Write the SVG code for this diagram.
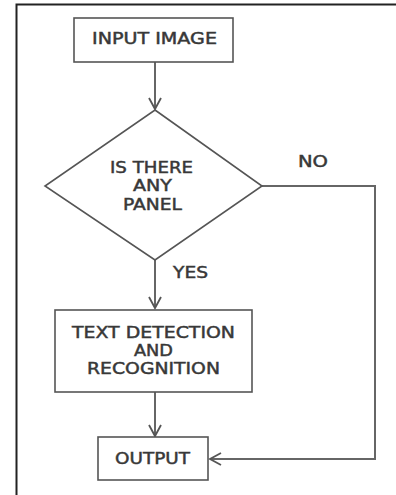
<svg xmlns="http://www.w3.org/2000/svg" width="396" height="495" viewBox="0 0 396 495">
<defs>
<style>
.box{fill:#fff;stroke:#555;stroke-width:1.6}
.ln{fill:none;stroke:#666;stroke-width:2}
.t{font-family:"DejaVu Sans",sans-serif;font-size:15px;fill:#383838;stroke:#383838;stroke-width:0.45;text-anchor:middle}
</style>
<marker id="ah" markerUnits="userSpaceOnUse" markerWidth="16" markerHeight="16" refX="12" refY="7" orient="auto">
<path d="M1,1 L12,7 L1,13" fill="none" stroke="#555" stroke-width="1.8"/>
</marker>
</defs>
<rect width="396" height="495" fill="#fff"/>
<path d="M16.5,495 V4.5 H396" fill="none" stroke="#222" stroke-width="2"/>
<g id="connectors">
<line class="ln" x1="155" y1="62" x2="155" y2="109" marker-end="url(#ah)"/>
<line class="ln" x1="155" y1="260" x2="155" y2="308" marker-end="url(#ah)"/>
<line class="ln" x1="155" y1="392" x2="155" y2="436" marker-end="url(#ah)"/>
<polyline class="ln" points="262,186 375,186 375,459 210,459" marker-end="url(#ah)"/>
<text class="t" x="313" y="167" textLength="30" lengthAdjust="spacingAndGlyphs">NO</text>
<text class="t" x="190.5" y="278" textLength="35" lengthAdjust="spacingAndGlyphs">YES</text>
</g>
<g id="input">
<rect class="box" x="74" y="18" width="159" height="44"/>
<text class="t" x="154.5" y="44" textLength="125" lengthAdjust="spacingAndGlyphs">INPUT IMAGE</text>
</g>
<g id="decision">
<polygon class="box" points="155,110 262,186 155,260 45,186"/>
<text class="t" x="151.5" y="173" textLength="83" lengthAdjust="spacingAndGlyphs">IS THERE</text>
<text class="t" x="152.5" y="191" textLength="39" lengthAdjust="spacingAndGlyphs">ANY</text>
<text class="t" x="152.5" y="210" textLength="59" lengthAdjust="spacingAndGlyphs">PANEL</text>
</g>
<g id="textdet">
<rect class="box" x="55" y="310" width="197" height="82"/>
<text class="t" x="153.5" y="337.5" textLength="163" lengthAdjust="spacingAndGlyphs">TEXT DETECTION</text>
<text class="t" x="153.5" y="355.5" textLength="39" lengthAdjust="spacingAndGlyphs">AND</text>
<text class="t" x="153.5" y="374" textLength="133" lengthAdjust="spacingAndGlyphs">RECOGNITION</text>
</g>
<g id="output">
<rect class="box" x="98" y="437" width="110" height="43"/>
<text class="t" x="152.5" y="464" textLength="75" lengthAdjust="spacingAndGlyphs">OUTPUT</text>
</g>
</svg>
